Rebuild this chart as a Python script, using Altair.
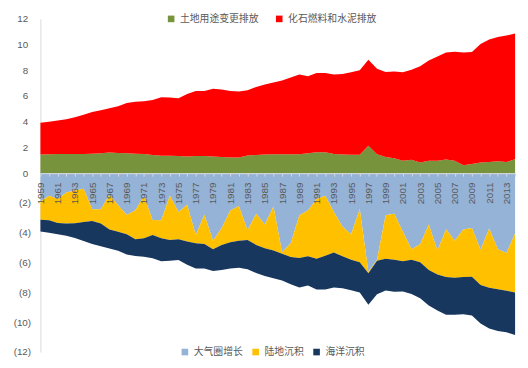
import altair as alt
import pandas as pd

years = list(range(1959, 2015))

# Sources (GtC/yr)
land_use = [1.45, 1.47, 1.50, 1.50, 1.50, 1.50, 1.52, 1.55, 1.60, 1.58,
            1.55, 1.52, 1.50, 1.42, 1.35, 1.35, 1.33, 1.30, 1.33, 1.33,
            1.30, 1.25, 1.23, 1.22, 1.38, 1.42, 1.45, 1.48, 1.48, 1.48,
            1.48, 1.55, 1.63, 1.63, 1.50, 1.45, 1.43, 1.43, 2.14, 1.48,
            1.25, 1.17, 0.97, 1.04, 0.84, 0.97, 0.97, 1.07, 0.97, 0.61,
            0.71, 0.84, 0.87, 0.92, 0.87, 1.08]
fossil = [2.47, 2.53, 2.60, 2.70, 2.85, 3.05, 3.23, 3.35, 3.45, 3.62,
          3.90, 4.03, 4.10, 4.28, 4.55, 4.53, 4.50, 4.85, 5.07, 5.07,
          5.27, 5.25, 5.17, 5.13, 5.07, 5.28, 5.45, 5.57, 5.72, 5.97,
          6.19, 5.99, 6.17, 6.17, 6.17, 6.27, 6.42, 6.57, 6.68, 6.65,
          6.62, 6.73, 6.88, 7.01, 7.47, 7.80, 8.10, 8.31, 8.48, 8.77,
          8.72, 9.20, 9.53, 9.68, 9.83, 9.78]

# Sinks (GtC/yr, negative)
atmos_growth = [-1.90, -1.52, -1.74, -1.30, -1.16, -1.05, -2.42, -2.42, -1.45, -2.15,
                -2.81, -2.48, -1.54, -3.14, -3.16, -1.52, -2.61, -2.11, -4.15, -2.79,
                -4.53, -3.67, -2.50, -2.22, -3.82, -2.72, -3.45, -2.24, -5.30, -4.70,
                -2.83, -2.50, -1.74, -1.52, -2.61, -3.60, -4.09, -2.40, -6.62, -5.80,
                -2.83, -2.72, -3.93, -5.10, -4.77, -3.45, -5.19, -3.76, -4.53, -3.78,
                -3.67, -5.14, -3.71, -5.10, -5.36, -4.04]
land_sink = [-1.22, -1.64, -1.60, -2.08, -2.20, -2.22, -0.79, -0.96, -2.33, -1.78,
             -1.28, -1.96, -2.83, -1.01, -1.21, -2.96, -1.83, -2.48, -0.55, -1.96,
             -0.57, -1.14, -2.14, -2.31, -0.66, -2.09, -1.58, -2.95, -0.10, -0.93,
             -2.86, -3.08, -4.00, -4.02, -2.71, -1.98, -1.71, -3.58, -0.10, -0.07,
             -2.91, -3.08, -1.98, -0.70, -1.21, -3.05, -1.60, -3.21, -2.48, -3.19,
             -3.27, -2.37, -3.98, -2.68, -2.53, -3.96]
ocean_sink = [-0.80, -0.84, -0.76, -0.82, -0.99, -1.28, -1.54, -1.52, -1.27, -1.27,
              -1.36, -1.11, -1.23, -1.55, -1.53, -1.40, -1.39, -1.56, -1.70, -1.65,
              -1.47, -1.69, -1.76, -1.82, -1.97, -1.89, -1.87, -1.86, -1.80, -1.82,
              -1.98, -1.96, -2.06, -2.26, -2.35, -2.14, -2.05, -2.02, -2.10, -2.26,
              -2.13, -2.15, -2.02, -2.30, -2.41, -2.38, -2.42, -2.52, -2.48, -2.50,
              -2.60, -2.58, -2.73, -2.81, -2.79, -2.86]

source_names = ["土地用途变更排放", "化石燃料和水泥排放"]
source_colors = ["#77933C", "#FF0000"]
sink_names = ["大气圈增长", "陆地沉积", "海洋沉积"]
sink_colors = ["#95B3D7", "#FFC000", "#17375E"]

top_ticks = [0, 2, 4, 6, 8, 10, 12]
bottom_ticks = [-12, -10, -8, -6, -4, -2]

rows_top = []
for i, yr in enumerate(years):
    for k, (name, vals) in enumerate(zip(source_names, [land_use, fossil])):
        rows_top.append({"year": yr, "series": name, "value": vals[i], "ord": k})
df_top = pd.DataFrame(rows_top)

rows_bot = []
for i, yr in enumerate(years):
    for k, (name, vals) in enumerate(zip(sink_names, [atmos_growth, land_sink, ocean_sink])):
        rows_bot.append({"year": yr, "series": name, "value": vals[i], "ord": k})
df_bot = pd.DataFrame(rows_bot)

TXT = "#595959"
LINE = "#d9d9d9"
W = 483
H_TOP = 157
H_BOT = 182

xscale = alt.Scale(domain=[1959, 2014], nice=False, zero=False)

top = alt.Chart(df_top).mark_area(interpolate="linear").encode(
    x=alt.X("year:Q", scale=xscale, axis=None),
    y=alt.Y("value:Q", stack="zero",
            scale=alt.Scale(domain=[0, 12], nice=False),
            axis=alt.Axis(values=top_ticks, title=None, grid=False, ticks=False,
                          domainColor=LINE, labelColor=TXT, labelFontSize=10,
                          labelFont="Liberation Sans", labelPadding=13,
                          minExtent=28, maxExtent=28)),
    color=alt.Color("series:N",
                    scale=alt.Scale(domain=source_names, range=source_colors),
                    legend=alt.Legend(title=None, orient="none", legendX=128, legendY=-5,
                                      direction="horizontal", symbolType="square",
                                      symbolSize=45, symbolStrokeWidth=0,
                                      labelFont="Noto Sans CJK SC", labelFontSize=10,
                                      labelColor=TXT, columnPadding=16, labelOffset=4)),
    order=alt.Order("ord:Q"),
).properties(width=W, height=H_TOP)

bottom = alt.Chart(df_bot).mark_area(interpolate="linear").encode(
    x=alt.X("year:Q", scale=xscale,
            axis=alt.Axis(orient="bottom", offset=-H_BOT, values=years, title=None,
                          labelExpr="(datum.value - 1959) % 2 == 0 ? '' + datum.value : ''",
                          labelAngle=270, labelFontSize=10, labelFont="Liberation Sans",
                          labelColor=TXT, labelPadding=6, labelFlush=False,
                          labelOverlap=False, tickSize=3, tickColor=LINE,
                          domainColor=LINE, grid=False, zindex=1)),
    y=alt.Y("value:Q", stack="zero",
            scale=alt.Scale(domain=[-12, 0], nice=False),
            axis=alt.Axis(values=bottom_ticks, title=None, grid=False, ticks=False,
                          labelExpr="'(' + abs(datum.value) + ')'",
                          domainColor=LINE, labelColor=TXT, labelFontSize=10,
                          labelFont="Liberation Sans", labelPadding=10,
                          minExtent=28, maxExtent=28)),
    color=alt.Color("series:N",
                    scale=alt.Scale(domain=sink_names, range=sink_colors),
                    legend=alt.Legend(title=None, orient="none", legendX=142, legendY=177,
                                      direction="horizontal", symbolType="square",
                                      symbolSize=45, symbolStrokeWidth=0,
                                      labelFont="Noto Sans CJK SC", labelFontSize=10,
                                      labelColor=TXT, columnPadding=8, labelOffset=4)),
    order=alt.Order("ord:Q"),
).properties(width=W, height=H_BOT)

chart = alt.vconcat(top, bottom, spacing=0, bounds="flush").resolve_scale(
    color="independent", x="independent", y="independent"
).resolve_legend(color="independent").properties(
    padding={"left": 5, "top": 3, "right": 0, "bottom": 0}
).configure_view(stroke=None)

chart.save("out.html", embed_options={"renderer": "svg", "actions": False})
